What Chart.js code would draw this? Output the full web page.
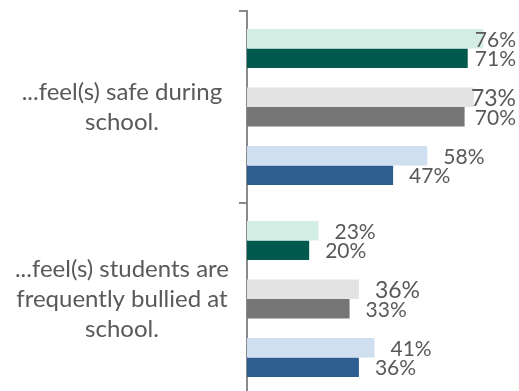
<!DOCTYPE html>
<html>
<head>
<meta charset="utf-8">
<script src="https://cdn.jsdelivr.net/npm/chart.js@4.4.1/dist/chart.umd.min.js"></script>
<style>
  html, body { margin: 0; padding: 0; background: #fff; overflow: hidden; }
  #wrap { width: 519px; height: 391px; overflow: hidden; }
</style>
</head>
<body>
<div id="wrap"><canvas id="grafico" width="519" height="395"></canvas></div>
<script>
// preguntas (una por grupo de barras)
var preguntas = [
    ['...feel(s) safe during', 'school.'],
    ['...feel(s) students are', 'frequently bullied at', 'school.']
];
// porcentajes por serie, en el orden de las preguntas
var verdeClaro  = [76, 23];
var verdeOscuro = [71, 20];
var grisClaro   = [73, 36];
var grisOscuro  = [70, 33];
var azulClaro   = [58, 41];
var azulOscuro  = [47, 36];

var colorTexto = '#595959';
var colorEje = '#8a8a8a';

// hueco vacio entre parejas de barras
function hueco(){
    return { data: [null, null], backgroundColor: 'rgba(0,0,0,0)', sinEtiqueta: true };
}

function serie(valores, color, tamEtiqueta){
    return { data: valores, backgroundColor: color, borderWidth: 0, tamEtiqueta: tamEtiqueta };
}

// escribe el porcentaje al final de cada barra, sin salirse del lienzo
var etiquetas = {
    id: 'etiquetas',
    afterDatasetsDraw: function(chart){
        var ctx = chart.ctx;
        var area = chart.chartArea;
        ctx.save();
        ctx.fillStyle = colorTexto;
        ctx.textBaseline = 'middle';
        ctx.textAlign = 'left';
        chart.data.datasets.forEach(function(ds, i){
            if (ds.sinEtiqueta) return;
            var meta = chart.getDatasetMeta(i);
            ctx.font = ds.tamEtiqueta + 'px Lato';
            meta.data.forEach(function(barra, j){
                var v = ds.data[j];
                if (v == null) return;
                var texto = v + '%';
                var ancho = ctx.measureText(texto).width;
                var x = Math.min(barra.x + 16, area.right - 3 - ancho);
                ctx.fillText(texto, x, barra.y + 1);
            });
        });
        ctx.restore();
    }
};

var ctx = document.getElementById('grafico');
var grafico = new Chart(ctx, {
    type: 'bar',
    data: {
        labels: preguntas,
        datasets: [
            serie(verdeClaro, '#d4ede4', 21),
            serie(verdeOscuro, '#02594e', 21),
            hueco(),
            serie(grisClaro, '#e3e3e3', 23),
            serie(grisOscuro, '#767677', 21),
            hueco(),
            serie(azulClaro, '#d0dfef', 21),
            serie(azulOscuro, '#2e5e91', 21)
        ]
    },
    options: {
        indexAxis: 'y',
        responsive: false,
        animation: false,
        devicePixelRatio: 1,
        layout: { padding: { top: 11, bottom: 0, left: 0, right: 0 } },
        datasets: { bar: { barPercentage: 1, categoryPercentage: 0.8125 } },
        plugins: {
            legend: { display: false },
            tooltip: { enabled: false }
        },
        scales: {
            x: {
                display: false,
                min: 0,
                max: 87.5
            },
            y: {
                afterFit: function(escala){
                    // ancho fijo y sin relleno extra por las etiquetas largas
                    escala.width = 247;
                    escala.paddingTop = 0;
                    escala.paddingBottom = 0;
                },
                border: { display: true, color: colorEje, width: 2 },
                grid: {
                    display: true,
                    drawOnChartArea: false,
                    drawTicks: true,
                    tickLength: 8,
                    color: colorEje,
                    lineWidth: 2
                },
                ticks: {
                    crossAlign: 'center',
                    padding: 10,
                    color: colorTexto,
                    font: { family: 'Lato', size: 24, lineHeight: 1.25 }
                }
            }
        }
    },
    plugins: [etiquetas]
});
</script>
</body>
</html>
